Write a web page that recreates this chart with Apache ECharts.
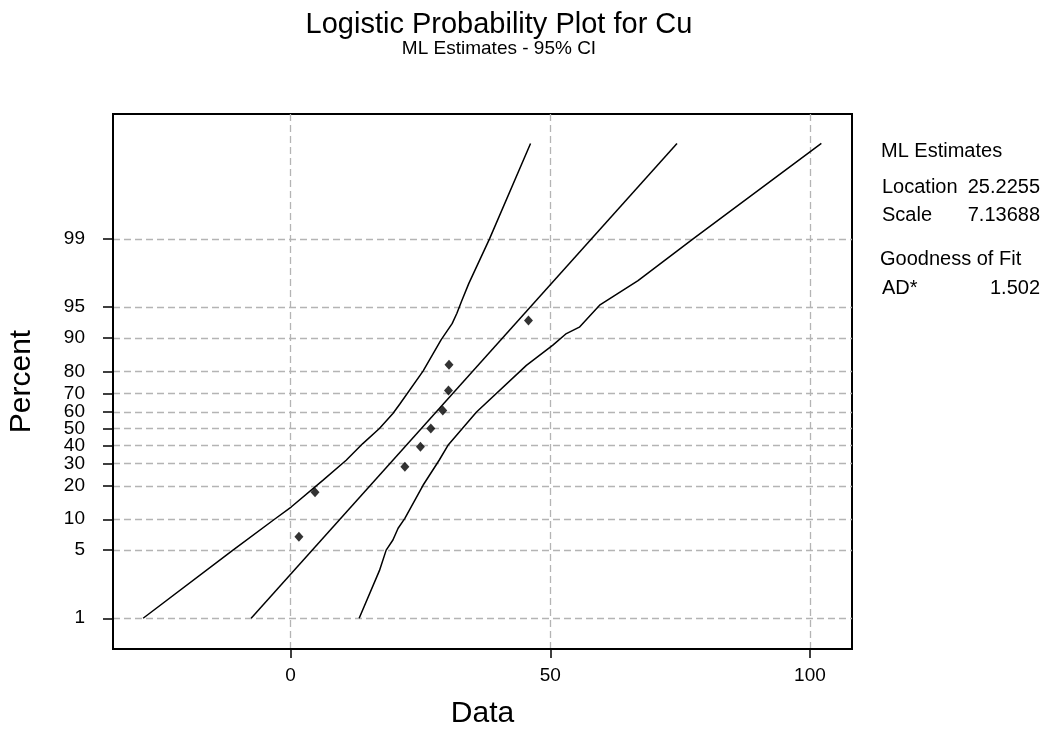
<!DOCTYPE html>
<html>
<head>
  <meta charset="utf-8">
  <title>Logistic Probability Plot for Cu</title>
  <script src="https://cdn.jsdelivr.net/npm/echarts@6/dist/echarts.min.js"></script>
  <style type="text/css">
    html, body { margin: 0; padding: 0; background: #fff; }
    #chart { width: 1049px; height: 730px; }
  </style>
</head>
<body>
  <div id="chart"></div>
  <script>
    // percent gridlines on the probability axis
    var pctTicks = [1, 5, 10, 20, 30, 40, 50, 60, 70, 80, 90, 95, 99];
    var xTicks = [0, 50, 100];

    // observations (Data, plotted percent)
    var ptX = [1.6, 4.7, 22.0, 25.0, 27.0, 29.3, 30.4, 30.5, 45.8];
    var ptP = [6.8, 17.6, 28.4, 39.2, 50, 60.8, 71.6, 82.4, 93.2];

    // fitted line
    var fitX = [-7.6, 74.4];
    var fitP = [1, 99.9];

    // 95% CI, left bound
    var lowX = [-28.4, -11.1, -3.1, 0.1, 6.2, 10.7, 13.9, 17.1, 19.7, 21.0, 25.5, 29.0, 31.1, 32.0, 32.9, 34.3, 38.3, 46.2];
    var lowP = [1, 5, 10, 13, 22.2, 31.7, 41, 50, 59, 64.3, 80.1, 89.6, 92.7, 94.2, 95.6, 97.1, 99, 99.9];

    // 95% CI, right bound
    var upX = [13.2, 17.1, 18.4, 19.7, 20.7, 22.0, 25.5, 28.6, 30.3, 35.8, 45.4, 50.5, 53.1, 55.6, 59.5, 66.9, 77.5, 102.2];
    var upP = [1, 3.1, 5, 6.3, 8.2, 10.2, 20.2, 31.7, 40, 59.9, 82.2, 88.3, 90.9, 92.1, 95.2, 97.3, 99, 99.9];

    // logistic probability scale
    function logit(p) { p = p / 100; return Math.log(p / (1 - p)); }
    function pairs(xs, ps) {
      return xs.map(function (x, i) { return [x, logit(ps[i])]; });
    }
    var yTickVals = pctTicks.map(logit);

    var font = '"Liberation Sans", Arial, sans-serif';
    var grid = { color: '#b4b4b4', type: [7, 4], width: 1.3 };
    var side = '20px ' + font;

    var myChart = echarts.init(document.getElementById('chart'));
    var option = {
      backgroundColor: '#fff',
      animation: false,
      textStyle: { fontFamily: font, color: '#000' },
      title: {
        text: 'Logistic Probability Plot for Cu',
        subtext: 'ML Estimates - 95% CI',
        left: 494, top: 5, textAlign: 'center', itemGap: 0,
        textStyle: { fontFamily: font, fontSize: 29, fontWeight: 'normal', color: '#000' },
        subtextStyle: { fontFamily: font, fontSize: 19, color: '#000' }
      },
      grid: {
        left: 113, right: 197, top: 114, bottom: 81,
        containLabel: false, outerBoundsMode: 'none',
        show: true, borderColor: '#000', borderWidth: 2
      },
      xAxis: {
        type: 'value', min: -34.2, max: 108.1,
        name: 'Data', nameLocation: 'middle', nameGap: 50,
        nameTextStyle: { fontFamily: font, fontSize: 30, color: '#000' },
        axisLine: { onZero: false, lineStyle: { color: '#000', width: 2 } },
        axisTick: { customValues: xTicks, length: 9, lineStyle: { color: '#000', width: 1.5 } },
        axisLabel: { customValues: xTicks, fontSize: 19, color: '#000', margin: 17 },
        splitLine: { show: true, lineStyle: grid }
      },
      yAxis: {
        type: 'value', min: -5.34, max: 7.62,
        name: 'Percent', nameLocation: 'middle', nameGap: 76, nameRotate: 90,
        nameTextStyle: { fontFamily: font, fontSize: 30, color: '#000' },
        axisLine: { onZero: false, lineStyle: { color: '#000', width: 2 } },
        axisTick: { customValues: yTickVals, length: 10, lineStyle: { color: '#000', width: 1.5 } },
        axisLabel: {
          customValues: yTickVals, fontSize: 19, color: '#000', margin: 28,
          formatter: function (v) {
            var best = 0;
            yTickVals.forEach(function (t, i) {
              if (Math.abs(t - v) < Math.abs(yTickVals[best] - v)) best = i;
            });
            return String(pctTicks[best]);
          }
        },
        splitLine: { show: true, lineStyle: grid }
      },
      series: [
        {
          name: 'lower', type: 'line', data: pairs(lowX, lowP),
          symbol: 'none', lineStyle: { color: '#000', width: 1.5 }, z: 3
        },
        {
          name: 'fit', type: 'line', data: pairs(fitX, fitP),
          symbol: 'none', lineStyle: { color: '#000', width: 1.5 }, z: 3
        },
        {
          name: 'upper', type: 'line', data: pairs(upX, upP),
          symbol: 'none', lineStyle: { color: '#000', width: 1.5 }, z: 3
        },
        {
          name: 'Cu', type: 'scatter', data: pairs(ptX, ptP),
          symbol: 'diamond', symbolSize: [9, 10], itemStyle: { color: '#000' }, z: 4
        }
      ],
      graphic: [
        { type: 'text', left: 881, top: 141, style: { text: 'ML Estimates', font: side, fill: '#000' } },
        { type: 'text', left: 882, top: 177, style: { text: 'Location', font: side, fill: '#000' } },
        { type: 'text', right: 9, top: 177, style: { text: '25.2255', font: side, fill: '#000' } },
        { type: 'text', left: 882, top: 205, style: { text: 'Scale', font: side, fill: '#000' } },
        { type: 'text', right: 9, top: 205, style: { text: '7.13688', font: side, fill: '#000' } },
        { type: 'text', left: 880, top: 249, style: { text: 'Goodness of Fit', font: side, fill: '#000' } },
        { type: 'text', left: 882, top: 278, style: { text: 'AD*', font: side, fill: '#000' } },
        { type: 'text', right: 9, top: 278, style: { text: '1.502', font: side, fill: '#000' } }
      ]
    };
    myChart.setOption(option);
  </script>
</body>
</html>
